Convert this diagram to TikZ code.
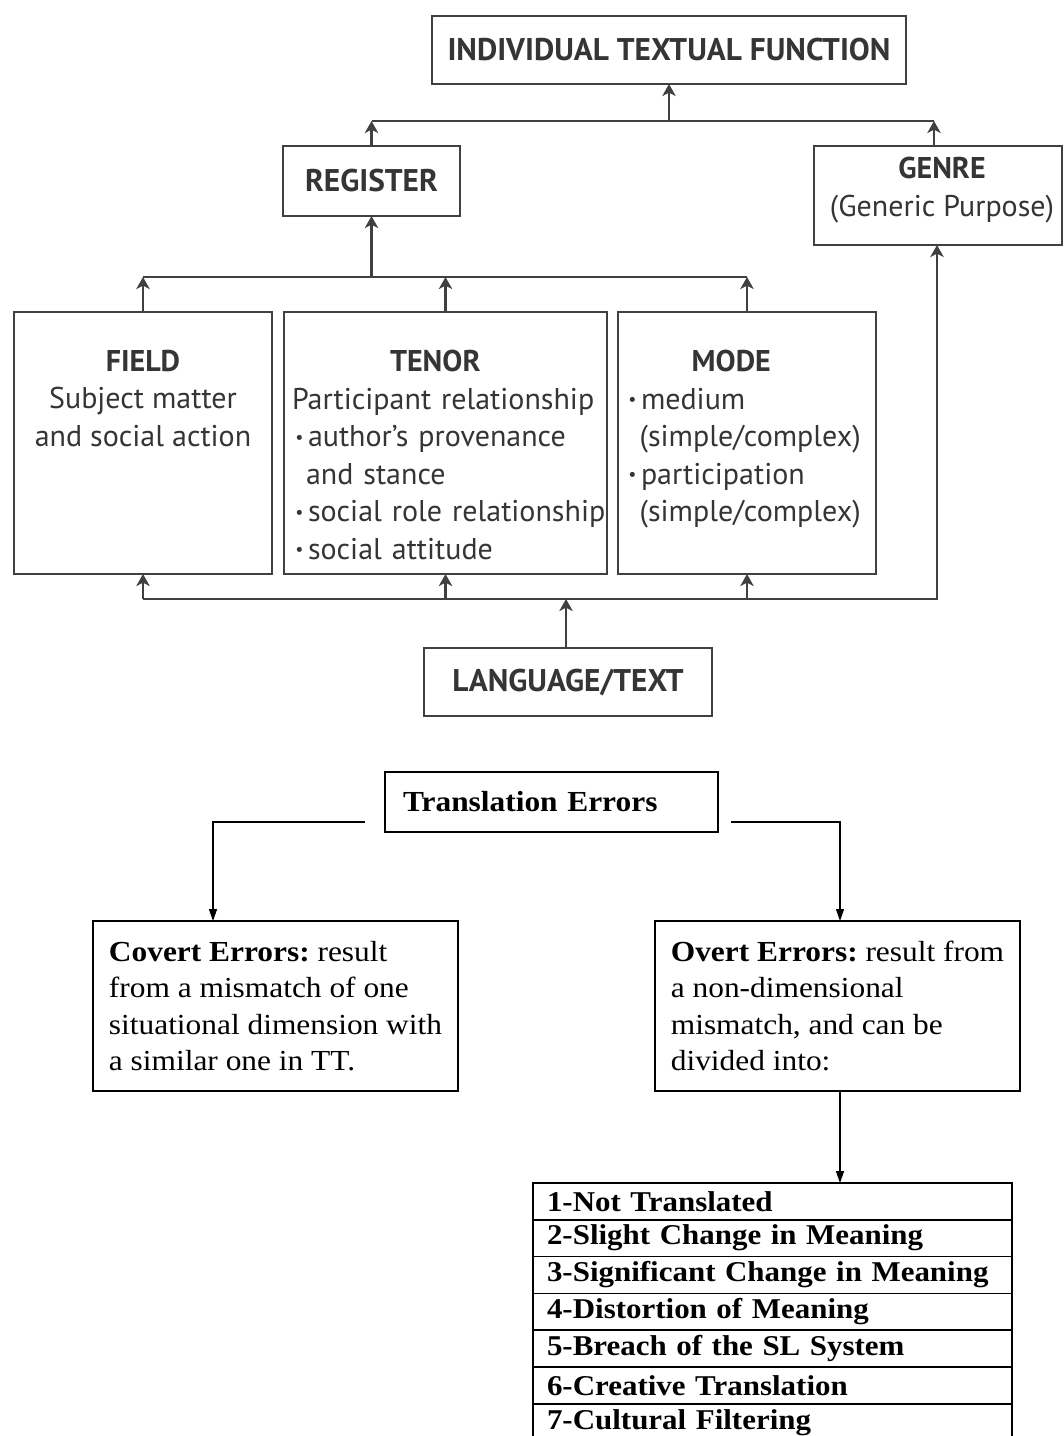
\documentclass[tikz,border=0pt]{standalone}
\usepackage{fontspec}
\setmainfont{Liberation Serif}
\newfontfamily\bser[FakeStretch=1.08]{Liberation Serif}
\newfontfamily\topsans{PT Sans}
\usetikzlibrary{arrows.meta,calc}
\definecolor{ink}{HTML}{353535}
\definecolor{lnk}{HTML}{404040}
\newcommand\tbul{\makebox[12pt][l]{\hspace{2.5pt}\raisebox{0.12em}{\scalebox{0.6}{•}}}}
\begin{document}
\frenchspacing
\begin{tikzpicture}[x=0.75pt,y=-0.75pt,
  tbox/.style={draw=lnk,line width=1.6pt,inner sep=0pt,outer sep=0pt,text=ink,font=\topsans\bfseries\fontsize{23.5}{28.2}\selectfont},
  ttext/.style={inner sep=0pt,outer sep=0pt,text=ink,font=\topsans\fontsize{22.5}{28.2}\selectfont},
  tline/.style={draw=lnk,line width=1.6pt},
  tarr/.style={draw=lnk,line width=1.6pt,-{Stealth[length=9pt,width=10pt,inset=2.5pt]}},
  bbox/.style={draw=black,line width=1.2pt,inner sep=0pt,outer sep=0pt,font=\bser\fontsize{21.8}{27.2}\selectfont},
  bline/.style={draw=black,line width=1pt},
  barr/.style={draw=black,line width=1pt,-{Triangle[length=9pt,width=6pt]}},
  rowbox/.style={bbox,minimum width=359.25pt,minimum height=27.6pt,inner xsep=10.5pt,text width=338.25pt,align=left,font=\bser\bfseries\fontsize{21.5}{27}\selectfont}
]
\useasboundingbox (0,0) rectangle (1064,1436);
\clip (0,0) rectangle (1064,1436);
\fill[white] (0,0) rectangle (1064,1436);

% ---------- upper diagram ----------
\node[tbox,minimum width=355.5pt,minimum height=51pt] (itf) at (669,50) {INDIVIDUAL TEXTUAL FUNCTION};
\node[tbox,minimum width=132.75pt,minimum height=52.5pt] (reg) at (371.5,181) {REGISTER};
\node[tbox,minimum width=186pt,minimum height=74.25pt] (genre) at (938,195.5) {};
\node[ttext,anchor=north,align=center] (genretxt) at ($(genre.north)+(4,11)$) {\textbf{GENRE}\\(Generic Purpose)};

\node[tbox,minimum width=193.5pt,minimum height=196.5pt] (field) at (143,443) {};
\node[tbox,minimum width=242.25pt,minimum height=196.5pt] (tenor) at (445.5,443) {};
\node[tbox,minimum width=193.5pt,minimum height=196.5pt] (mode) at (747,443) {};

\node[ttext,anchor=north,align=center] (fieldtxt) at ($(field.north)+(0,38)$)
  {\textbf{FIELD}\\Subject matter\\and social action};
\node[ttext,anchor=north west,align=left,text width=240pt] (tenortxt) at ($(tenor.north west)+(8,38)$)
  {\hspace*{73.5pt}\textbf{TENOR}\\
   Participant relationship\\
   \tbul author’s provenance\\
   \hspace*{10.5pt}and stance\\
   \tbul social role relationship\\
   \tbul social attitude};
\node[ttext,anchor=north west,align=left,text width=185pt] (modetxt) at ($(mode.north west)+(7,38)$)
  {\hspace*{50pt}\textbf{MODE}\\
   \tbul medium\\
   \hspace*{11pt}(simple/complex)\\
   \tbul participation\\
   \hspace*{11pt}(simple/complex)};

\node[tbox,minimum width=216pt,minimum height=51pt] (lang) at (568,682) {LANGUAGE/TEXT};

\coordinate (b1) at (0,121);
\coordinate (b2) at (0,277);
\coordinate (b3) at (0,599);

% top bus
\draw[tline] (reg.north |- b1) -- ([xshift=-3pt]genre.north |- b1);
\draw[tarr] (reg.north) -- (reg.north |- b1);
\draw[tarr] ([xshift=-3pt]genre.north) -- ([xshift=-3pt]genre.north |- b1);
\draw[tarr] (itf.south |- b1) -- (itf.south);
% middle bus
\draw[tline] (field.north |- b2) -- (mode.north |- b2);
\draw[tarr] (field.north) -- (field.north |- b2);
\draw[tarr] (tenor.north) -- (tenor.north |- b2);
\draw[tarr] (mode.north) -- (mode.north |- b2);
\draw[tarr] (reg.south |- b2) -- (reg.south);
% lower bus
\draw[tarr] (field.south |- b3) -- ([xshift=-0.75pt]genre.south |- b3) -- ([xshift=-0.75pt]genre.south);
\draw[tarr] (field.south |- b3) -- (field.south);
\draw[tarr] (tenor.south |- b3) -- (tenor.south);
\draw[tarr] (mode.south |- b3) -- (mode.south);
\draw[tarr] ([xshift=-1.5pt]lang.north) -- ([xshift=-1.5pt]lang.north |- b3);

% ---------- lower diagram ----------
\node[bbox,minimum width=249.75pt,minimum height=45pt,inner xsep=13.5pt,text width=222.75pt,align=left,font=\bser\bfseries\fontsize{21.8}{27}\selectfont] (te) at (551.5,802) {Translation Errors};
\node[bbox,minimum width=273.75pt,minimum height=127.5pt,align=left] (covert) at (275.5,1006)
  {\textbf{Covert Errors:} result\\from a mismatch of one\\situational dimension with\\a similar one in TT.};
\node[bbox,minimum width=273.75pt,minimum height=127.5pt,align=left] (overt) at (837.5,1006)
  {\textbf{Overt Errors:} result from\\a non-dimensional\\mismatch, and can be\\divided into:};

\coordinate (teL) at ([xshift=-15pt,yshift=7.5pt]te.south west);
\coordinate (teR) at ([xshift=9.75pt,yshift=7.5pt]te.south east);
\draw[barr] (teL) -| ([xshift=90pt]covert.north west);
\draw[barr] (teR) -| ([xshift=138.75pt]overt.north west);

\node[rowbox] (row1) at (772.5,1201.4) {1-Not Translated};
\node[rowbox,anchor=north] (row2) at (row1.south) {2-Slight Change in Meaning};
\node[rowbox,anchor=north] (row3) at (row2.south) {3-Significant Change in Meaning};
\node[rowbox,anchor=north] (row4) at (row3.south) {4-Distortion of Meaning};
\node[rowbox,anchor=north] (row5) at (row4.south) {5-Breach of the SL System};
\node[rowbox,anchor=north] (row6) at (row5.south) {6-Creative Translation};
\node[rowbox,anchor=north] (row7) at (row6.south) {7-Cultural Filtering};

\draw[barr] ([xshift=138.75pt]overt.south west) -- ([xshift=138.75pt]overt.south west |- row1.north);
\end{tikzpicture}
\end{document}
